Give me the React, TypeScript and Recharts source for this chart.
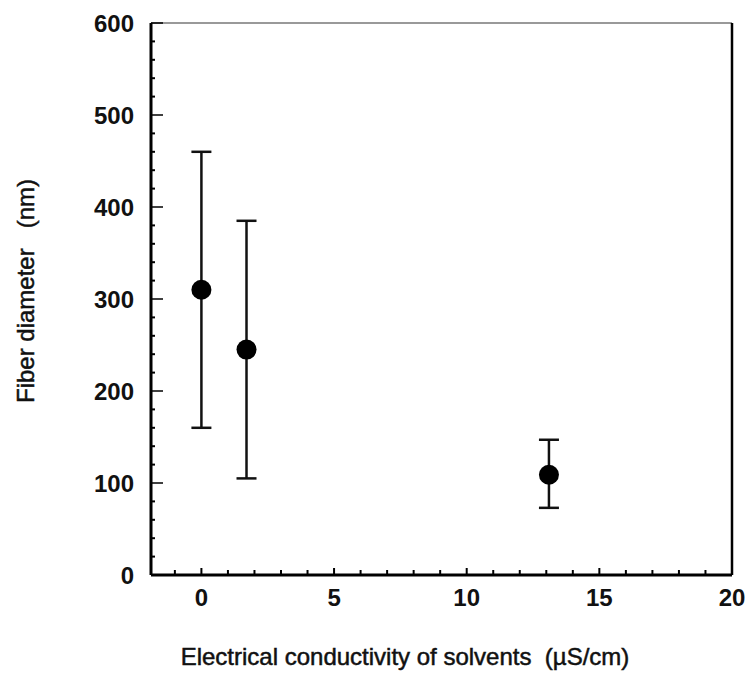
import React from "react";
import {
  ScatterChart,
  Scatter,
  XAxis,
  YAxis,
  ErrorBar,
  ReferenceLine,
  Label,
} from "recharts";

const conductivity = [0, 1.7, 13.1];
const diameter = [310, 245, 109];
const diameterLow = [160, 105, 73];
const diameterHigh = [460, 385, 147];

const xTicks = [-1, 0, 1, 2, 3, 4, 5, 6, 7, 8, 9, 10, 11, 12, 13, 14, 15, 16, 17, 18, 19, 20];
const yTicks = Array.from({ length: 31 }, (_, i) => i * 20);

const data = conductivity.map((x, i) => ({
  x,
  y: diameter[i],
  err: [diameter[i] - diameterLow[i], diameterHigh[i] - diameter[i]],
}));

const font = "'Liberation Sans', Arial, sans-serif";

const XTick = (props: any) => {
  const { x, y, payload } = props;
  const v = payload.value;
  const major = v % 5 === 0;
  return (
    <g>
      <line x1={x} x2={x} y1={y} y2={y - (major ? 7 : 5)} stroke="#000" strokeWidth={2} />
      {major && (
        <text x={x} y={y + 31} textAnchor="middle" fontFamily={font} fontWeight="bold" fontSize={24} fill="#111">
          {v}
        </text>
      )}
    </g>
  );
};

const YTick = (props: any) => {
  const { x, y, payload } = props;
  const v = payload.value;
  const major = v % 100 === 0;
  return (
    <g>
      <line x1={x} x2={x + (major ? 12 : 4)} y1={y} y2={y} stroke="#000" strokeWidth={major ? 1.5 : 2} />
      {major && (
        <text x={x - 17} y={y + 8.5} textAnchor="end" fontFamily={font} fontWeight="bold" fontSize={24} fill="#111">
          {v}
        </text>
      )}
    </g>
  );
};

const labelStyle = { fontFamily: font, fontSize: 24, fill: "#111", stroke: "#111", strokeWidth: 0.5 };

export default function App() {
  return (
    <div style={{ position: "absolute", left: 0, top: 0, background: "#fff" }}>
      <ScatterChart width={745} height={673} margin={{ top: 23, right: 13, left: 0, bottom: 0 }}>
        <XAxis
          type="number"
          dataKey="x"
          domain={[-1.9, 20]}
          ticks={xTicks}
          interval={0}
          tick={<XTick />}
          tickSize={0}
          tickMargin={0}
          tickLine={false}
          height={98}
          axisLine={{ stroke: "#000", strokeWidth: 3 }}
          allowDataOverflow
        >
          <Label
            content={() => (
              <text x={405} y={665} textAnchor="middle" style={labelStyle}>
                {"Electrical conductivity of solvents\u00A0\u00A0(µS/cm)"}
              </text>
            )}
          />
        </XAxis>
        <YAxis
          type="number"
          dataKey="y"
          domain={[0, 600]}
          ticks={yTicks}
          interval={0}
          tick={<YTick />}
          tickSize={0}
          tickMargin={0}
          tickLine={false}
          width={151}
          axisLine={{ stroke: "#000", strokeWidth: 3 }}
          allowDataOverflow
        >
          <Label
            content={() => (
              <text x={34} y={291} textAnchor="middle" transform="rotate(-90 34 291)" style={labelStyle}>
                {"Fiber diameter\u00A0\u00A0\u00A0(nm)"}
              </text>
            )}
          />
        </YAxis>
        <ReferenceLine y={600} stroke="#999" strokeWidth={2} />
        <ReferenceLine x={20} stroke="#000" strokeWidth={2.5} />
        <Scatter
          data={data}
          fill="#000"
          isAnimationActive={false}
          shape={(p: any) => <circle cx={p.cx} cy={p.cy} r={10} fill="#000" />}
        >
          <ErrorBar dataKey="err" direction="y" width={10} stroke="#111" strokeWidth={2.5} />
        </Scatter>
      </ScatterChart>
    </div>
  );
}
